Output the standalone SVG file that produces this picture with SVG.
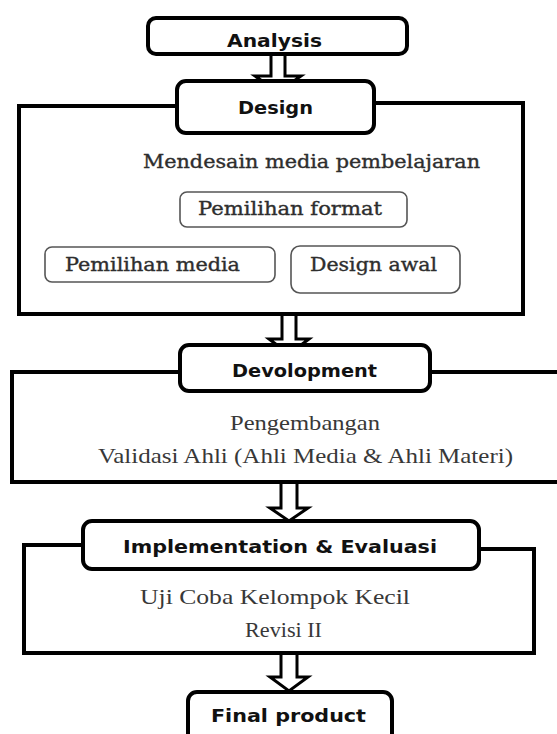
<svg xmlns="http://www.w3.org/2000/svg" width="557" height="734" viewBox="0 0 557 734">
<style>
.frame{fill:none;stroke:#000;stroke-width:4;stroke-linejoin:miter}
.node{fill:#fff;stroke:#000;stroke-width:4}
.sub{fill:#fff;stroke:#555;stroke-width:1.6}
.arrow{fill:#fff;stroke:#000;stroke-width:3;stroke-linejoin:miter}
.lbl{font-family:"DejaVu Sans",sans-serif;font-weight:bold;font-size:17px;fill:#111}
.ser1{font-family:"DejaVu Serif",serif;font-size:18px;fill:#2e2e2e;stroke:#2e2e2e;stroke-width:0.35}
.ser2{font-family:"Liberation Serif",serif;font-size:22px;fill:#383838}
</style>
<rect width="557" height="734" fill="#fff"/>
<g id="frames">
<polyline class="frame" points="177,106 19,106 19,314 523,314 523,103 374,103"/>
<polyline class="frame" points="180,372 12,372 12,482 560,482"/>
<line class="frame" x1="430" y1="372" x2="560" y2="372"/>
<polyline class="frame" points="83,545 24,545 24,653 534,653 534,549 479,549"/>
</g>
<g id="connectors">
<path class="arrow" d="M271,56 V76 H255 L278,92 L301,76 H285 V56"/>
<path class="arrow" d="M282,316 V339 H269 L289,354 L309,339 H296 V316"/>
<path class="arrow" d="M281,484 V508 H270 L289,521 L308,508 H297 V484"/>
<path class="arrow" d="M281,655 V677 H270 L289,691 L308,677 H297 V655"/>
</g>
<g id="analysis">
<rect class="node" x="148" y="18" width="259" height="36" rx="8"/>
<text class="lbl" x="227" y="47" textLength="95" lengthAdjust="spacingAndGlyphs">Analysis</text>
</g>
<g id="design">
<rect class="node" x="177" y="81" width="197" height="52" rx="9"/>
<text class="lbl" x="238" y="114" textLength="75" lengthAdjust="spacingAndGlyphs">Design</text>
<text class="ser1" x="143" y="168" textLength="337" lengthAdjust="spacingAndGlyphs">Mendesain media pembelajaran</text>
</g>
<g id="pemilihan-format">
<rect class="sub" x="180" y="192" width="227" height="35" rx="7"/>
<text class="ser1" x="198" y="215" textLength="184" lengthAdjust="spacingAndGlyphs">Pemilihan format</text>
</g>
<g id="pemilihan-media">
<rect class="sub" x="45" y="247" width="230" height="35" rx="7"/>
<text class="ser1" x="65" y="271" textLength="175" lengthAdjust="spacingAndGlyphs">Pemilihan media</text>
</g>
<g id="design-awal">
<rect class="sub" x="291" y="246" width="169" height="47" rx="9"/>
<text class="ser1" x="310" y="271" textLength="127" lengthAdjust="spacingAndGlyphs">Design awal</text>
</g>
<g id="development">
<rect class="node" x="180" y="345" width="250" height="46" rx="9"/>
<text class="lbl" x="232" y="377" textLength="145" lengthAdjust="spacingAndGlyphs">Devolopment</text>
<text class="ser2" x="230" y="430" textLength="150" lengthAdjust="spacingAndGlyphs">Pengembangan</text>
<text class="ser2" x="98" y="463" textLength="415" lengthAdjust="spacingAndGlyphs">Validasi Ahli (Ahli Media &amp; Ahli Materi)</text>
</g>
<g id="implementation">
<rect class="node" x="83" y="521" width="396" height="48" rx="9"/>
<text class="lbl" x="123" y="553" textLength="314" lengthAdjust="spacingAndGlyphs">Implementation &amp; Evaluasi</text>
<text class="ser2" x="140" y="604" textLength="270" lengthAdjust="spacingAndGlyphs">Uji Coba Kelompok Kecil</text>
<text class="ser2" x="245" y="637" textLength="77" lengthAdjust="spacingAndGlyphs">Revisi II</text>
</g>
<g id="final-product">
<rect class="node" x="188" y="692" width="204" height="70" rx="9"/>
<text class="lbl" x="211" y="722" textLength="155" lengthAdjust="spacingAndGlyphs">Final product</text>
</g>
</svg>
